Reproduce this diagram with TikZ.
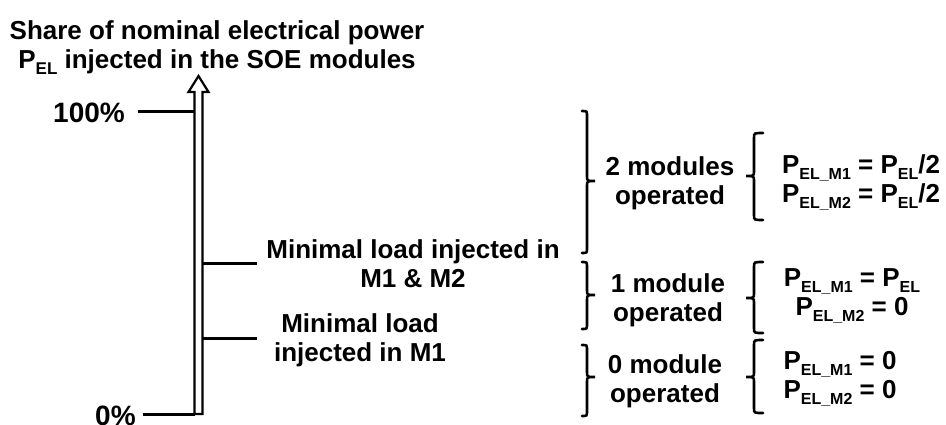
\documentclass[tikz,border=0pt]{standalone}
\usepackage{fontspec}
\setmainfont{Liberation Sans}
\newcommand{\psub}[1]{\raisebox{-6pt}{\fontsize{16}{16}\selectfont\bfseries #1}}
\newcommand{\tsub}[1]{\raisebox{-6pt}{\fontsize{17}{17}\selectfont\bfseries #1}}
\newcommand{\brR}[4]{% x of ends, top, mid, bottom
  \draw[brc] (#1,#2) .. controls (#1+5,#2) .. (#1+5,#2+5) -- (#1+5,#3-5)
    .. controls (#1+5,#3) .. (#1+13,#3) .. controls (#1+5,#3) .. (#1+5,#3+5)
    -- (#1+5,#4-5) .. controls (#1+5,#4) .. (#1,#4);}
\newcommand{\brL}[4]{% x of ends, top, mid, bottom
  \draw[brc] (#1,#2) .. controls (#1-9,#2) .. (#1-9,#2+5) -- (#1-9,#3-5)
    .. controls (#1-9,#3) .. (#1-17,#3) .. controls (#1-9,#3) .. (#1-9,#3+5)
    -- (#1-9,#4-5) .. controls (#1-9,#4) .. (#1,#4);}
\begin{document}
\begin{tikzpicture}[x=1pt,y=-1pt,
  every node/.style={inner sep=0pt,align=center,text=black,
    font=\fontsize{26}{29}\selectfont\bfseries},
  big/.style={font=\fontsize{28}{28}\selectfont\bfseries},
  shaft/.style={draw=black,line width=2.2pt,line join=miter,fill=white},
  tick/.style={draw=black,line width=3pt},
  brc/.style={draw=black,line width=2.6pt,line cap=round}]
\useasboundingbox (0,0) rectangle (946,424);

% title (base anchor = baseline of last line)
\node[anchor=base] (title) at (217,68)
  {Share of nominal electrical power\\P\tsub{EL} injected in the SOE modules};

% vertical double arrow
\draw[shaft] (194.5,414) -- (194.5,92) -- (188.5,92) -- (198.5,76)
  -- (208.5,92) -- (202.5,92) -- (202.5,414) -- cycle;

% scale labels and ticks
\node[big,anchor=base east] (p100) at (125,122) {100\%};
\node[big,anchor=base west] (p0) at (95,425) {0\%};
\coordinate (t100a) at (138,111);
\coordinate (t100b) at (194.5,111);
\coordinate (t0a) at (143,414);
\coordinate (t0b) at (194.5,414);
\coordinate (t12a) at (202.5,263);
\coordinate (t12b) at (257,263);
\coordinate (t1a) at (202.5,338);
\coordinate (t1b) at (257,338);
\draw[tick] (t100a) -- (t100b);
\draw[tick] (t0a) -- (t0b);
\draw[tick] (t12a) -- (t12b);
\draw[tick] (t1a) -- (t1b);

\node[anchor=base] (l12) at (413,287) {Minimal load injected in\\M1 \& M2};
\node[anchor=base] (l1) at (360,361) {Minimal load\\injected in M1};

% right braces
\brR{582}{111}{181}{253}
\brR{582}{262}{295}{329}
\brR{582}{345}{377}{416}

\node[anchor=base] (m2) at (670,204) {2 modules\\operated};
\node[anchor=base] (m1) at (668,321) {1 module\\operated};
\node[anchor=base] (m0) at (665,402) {0 module\\operated};

% left braces
\brL{763}{133}{176}{220}
\brL{763}{262}{298}{333}
\brL{763}{340}{377}{413}

\node[anchor=base] (e2) at (861,202)
  {P\psub{EL\_M1} = P\psub{EL}/2\\P\psub{EL\_M2} = P\psub{EL}/2};
\node[anchor=base] (e1) at (852,315)
  {P\psub{EL\_M1} = P\psub{EL}\\P\psub{EL\_M2} = 0};
\node[anchor=base] (e0) at (840,398)
  {P\psub{EL\_M1} = 0\\P\psub{EL\_M2} = 0};
\end{tikzpicture}
\end{document}
